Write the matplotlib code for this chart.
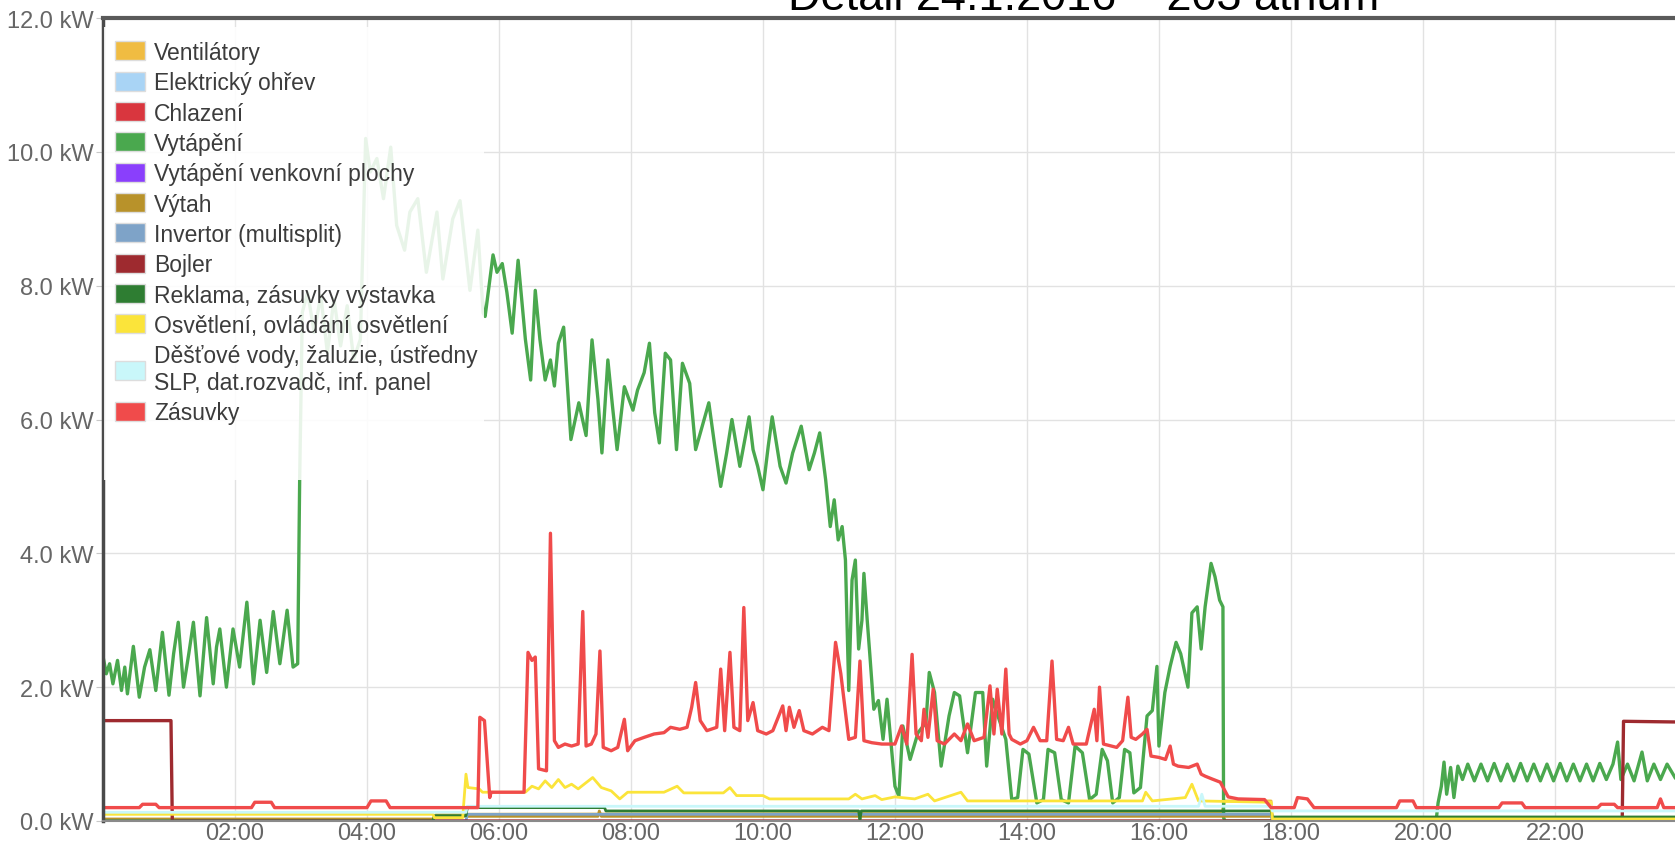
import matplotlib
matplotlib.use("Agg")
import matplotlib.pyplot as plt
from matplotlib.patches import Patch, Rectangle

plt.rcParams["font.family"] = ["Liberation Sans", "DejaVu Sans"]

# ----------------------------
# Data (hours, kW)
# ----------------------------

series_names = [
    "Ventilátory",
    "Elektrický ohřev",
    "Chlazení",
    "Vytápění",
    "Vytápění venkovní plochy",
    "Výtah",
    "Invertor (multisplit)",
    "Bojler",
    "Reklama, zásuvky výstavka",
    "Osvětlení, ovládání osvětlení",
    "Děšťové vody, žaluzie, ústředny\nSLP, dat.rozvadč, inf. panel",
    "Zásuvky",
]

series_colors = [
    "#f0bc42", "#a9d4f5", "#d9363e", "#4aa84e", "#8a3ffc", "#b8922a",
    "#7ea3c8", "#9e2a2f", "#2e7d32", "#fbe43a", "#c9f7fa", "#f04b4b",
]

fans = [(0.0, 0.02), (5.0, 0.02), (5.05, 0.1), (16.95, 0.12), (17.0, 0.3),
        (17.7, 0.3), (17.72, 0.02), (23.82, 0.02)]

el_heating = [(0.0, 0.0), (23.82, 0.0)]

cooling = [(0.0, 0.0), (23.82, 0.0)]

heating = [
    (0.00, 2.46), (0.05, 2.20), (0.10, 2.35), (0.15, 2.05), (0.22, 2.40),
    (0.28, 1.95), (0.33, 2.30), (0.37, 1.90), (0.46, 2.61), (0.55, 1.85),
    (0.63, 2.30), (0.71, 2.56), (0.80, 1.95), (0.90, 2.82), (1.00, 1.88),
    (1.07, 2.50), (1.14, 2.97), (1.22, 2.00), (1.30, 2.50), (1.37, 2.97),
    (1.47, 1.87), (1.57, 3.04), (1.67, 2.05), (1.72, 2.60), (1.77, 2.87),
    (1.87, 2.00), (1.97, 2.87), (2.07, 2.30), (2.18, 3.27), (2.28, 2.05),
    (2.38, 3.00), (2.48, 2.22), (2.58, 3.13), (2.68, 2.35), (2.79, 3.15),
    (2.88, 2.30), (2.95, 2.35), (2.98, 5.10), (3.02, 7.60), (3.10, 7.90),
    (3.20, 7.30), (3.30, 7.85), (3.40, 7.00), (3.50, 7.80), (3.60, 7.10),
    (3.70, 7.70), (3.80, 6.90), (3.90, 7.20), (3.98, 10.20), (4.05, 9.70),
    (4.15, 9.90), (4.25, 9.30), (4.36, 10.07), (4.45, 8.90), (4.57, 8.53),
    (4.65, 9.10), (4.77, 9.30), (4.90, 8.20), (5.06, 9.10), (5.15, 8.10),
    (5.30, 9.00), (5.41, 9.27), (5.56, 7.93), (5.68, 8.83), (5.76, 7.59),
    (5.79, 7.54), (5.91, 8.46), (5.97, 8.20), (6.05, 8.33), (6.12, 7.90),
    (6.20, 7.29), (6.29, 8.38), (6.40, 7.20), (6.48, 6.59), (6.55, 7.93),
    (6.62, 7.20), (6.70, 6.59), (6.78, 6.89), (6.84, 6.50), (6.90, 7.14),
    (6.98, 7.38), (7.09, 5.70), (7.21, 6.25), (7.32, 5.76), (7.41, 7.19),
    (7.50, 6.30), (7.56, 5.50), (7.65, 6.89), (7.72, 6.20), (7.79, 5.55),
    (7.90, 6.49), (8.03, 6.14), (8.10, 6.44), (8.20, 6.70), (8.28, 7.14),
    (8.36, 6.10), (8.43, 5.65), (8.52, 6.99), (8.60, 6.89), (8.69, 5.55),
    (8.78, 6.84), (8.89, 6.54), (8.98, 5.55), (9.08, 5.90), (9.18, 6.25),
    (9.27, 5.60), (9.36, 5.00), (9.45, 5.50), (9.53, 6.00), (9.65, 5.30),
    (9.79, 6.04), (9.85, 5.55), (9.92, 5.30), (10.00, 4.95), (10.08, 5.60),
    (10.14, 6.04), (10.26, 5.30), (10.35, 5.05), (10.45, 5.50), (10.58, 5.90),
    (10.70, 5.25), (10.78, 5.50), (10.86, 5.80), (10.95, 5.10), (11.02, 4.40),
    (11.08, 4.80), (11.14, 4.20), (11.20, 4.40), (11.25, 3.90), (11.30, 1.95),
    (11.35, 3.60), (11.40, 3.90), (11.45, 2.57), (11.50, 3.00), (11.53, 3.70),
    (11.58, 3.00), (11.62, 2.48), (11.68, 1.67), (11.75, 1.80), (11.82, 1.22),
    (11.88, 1.82), (12.00, 0.52), (12.06, 0.37), (12.12, 1.42), (12.23, 0.92),
    (12.35, 1.32), (12.47, 1.47), (12.52, 2.22), (12.60, 1.92), (12.70, 0.82),
    (12.82, 1.57), (12.90, 1.92), (12.98, 1.87), (13.10, 1.02), (13.22, 1.92),
    (13.33, 1.92), (13.39, 0.82), (13.48, 1.82), (13.56, 1.57), (13.68, 1.22),
    (13.77, 0.32), (13.86, 0.35), (13.94, 1.07), (14.03, 1.00), (14.15, 0.27),
    (14.25, 0.32), (14.32, 1.07), (14.42, 1.02), (14.52, 0.32), (14.63, 0.27),
    (14.73, 1.12), (14.84, 1.02), (14.95, 0.32), (15.05, 0.40), (15.14, 1.07),
    (15.22, 0.90), (15.30, 0.27), (15.40, 0.35), (15.48, 1.07), (15.56, 1.02),
    (15.62, 0.42), (15.72, 0.50), (15.82, 1.57), (15.90, 1.65), (15.97, 2.31),
    (16.00, 1.12), (16.09, 1.92), (16.17, 2.31), (16.26, 2.67), (16.33, 2.50),
    (16.44, 2.00), (16.50, 3.11), (16.58, 3.20), (16.64, 2.57), (16.70, 3.20),
    (16.79, 3.85), (16.85, 3.65), (16.92, 3.30), (16.97, 3.20), (16.98, 0.05),
    (17.00, 0.00), (20.20, 0.00), (20.23, 0.27), (20.28, 0.52), (20.32, 0.88),
    (20.36, 0.40), (20.42, 0.80), (20.47, 0.35), (20.53, 0.82), (20.60, 0.62),
    (20.68, 0.85), (20.78, 0.60), (20.88, 0.85), (20.98, 0.60), (21.08, 0.86),
    (21.18, 0.60), (21.28, 0.85), (21.38, 0.60), (21.48, 0.86), (21.58, 0.60),
    (21.68, 0.85), (21.78, 0.60), (21.88, 0.85), (21.98, 0.60), (22.08, 0.86),
    (22.18, 0.60), (22.28, 0.85), (22.38, 0.60), (22.48, 0.85), (22.58, 0.60),
    (22.68, 0.86), (22.78, 0.62), (22.88, 0.85), (22.95, 1.18), (23.00, 0.62),
    (23.10, 0.85), (23.20, 0.60), (23.32, 1.03), (23.40, 0.60), (23.50, 0.85),
    (23.60, 0.62), (23.70, 0.85), (23.82, 0.65),
]

outdoor_heating = [(0.0, 0.0), (23.82, 0.0)]

lift = [(0.0, 0.03), (5.0, 0.03), (5.05, 0.07), (7.5, 0.07), (7.52, 0.15),
        (7.55, 0.07), (17.7, 0.07), (17.72, 0.03), (23.82, 0.03)]

inverter = [(0.0, 0.0), (5.5, 0.0), (5.52, 0.1), (17.7, 0.1), (17.72, 0.0),
            (23.82, 0.0)]

boiler = [(0.0, 1.50), (1.03, 1.50), (1.05, 0.0), (23.02, 0.0),
          (23.04, 1.49), (23.82, 1.48)]

advert = [(0.0, 0.0), (5.0, 0.0), (5.02, 0.08), (5.5, 0.08), (5.52, 0.2),
          (7.6, 0.2), (7.62, 0.15), (11.45, 0.15), (11.47, 0.02), (11.49, 0.15),
          (17.7, 0.15), (17.72, 0.06), (23.82, 0.06)]

lighting = [
    (0.00, 0.10), (5.00, 0.10), (5.02, 0.05), (5.45, 0.05), (5.50, 0.70),
    (5.53, 0.50), (5.70, 0.48), (5.75, 0.43), (6.40, 0.43), (6.50, 0.52),
    (6.60, 0.48), (6.70, 0.60), (6.80, 0.50), (6.90, 0.62), (7.00, 0.50),
    (7.10, 0.55), (7.20, 0.48), (7.42, 0.65), (7.55, 0.50), (7.70, 0.45),
    (7.83, 0.33), (7.95, 0.43), (8.50, 0.43), (8.70, 0.52), (8.80, 0.42),
    (9.40, 0.42), (9.50, 0.50), (9.60, 0.38), (10.00, 0.38), (10.10, 0.33),
    (11.30, 0.33), (11.40, 0.40), (11.50, 0.33), (11.70, 0.38), (11.80, 0.32),
    (12.00, 0.36), (12.30, 0.33), (12.50, 0.40), (12.60, 0.30), (13.00, 0.43),
    (13.10, 0.30), (15.75, 0.30), (15.80, 0.43), (15.90, 0.30), (16.40, 0.35),
    (16.50, 0.55), (16.60, 0.30), (17.70, 0.28), (17.72, 0.03), (23.82, 0.03),
]

rainwater = [(0.0, 0.13), (5.5, 0.13), (5.52, 0.22), (16.6, 0.22),
             (16.65, 0.4), (16.7, 0.22), (17.7, 0.22), (17.72, 0.15),
             (23.82, 0.15)]

sockets = [
    (0.00, 0.20), (0.55, 0.20), (0.60, 0.25), (0.80, 0.25), (0.85, 0.20),
    (2.25, 0.20), (2.30, 0.28), (2.55, 0.28), (2.60, 0.20), (4.00, 0.20),
    (4.06, 0.30), (4.29, 0.30), (4.35, 0.20), (5.68, 0.20), (5.71, 1.55),
    (5.78, 1.50), (5.86, 0.35), (5.88, 0.43), (6.38, 0.43), (6.44, 2.52),
    (6.50, 2.40), (6.55, 2.45), (6.60, 0.78), (6.72, 0.75), (6.78, 4.30),
    (6.84, 1.20), (6.90, 1.10), (7.00, 1.15), (7.10, 1.12), (7.20, 1.15),
    (7.27, 3.13), (7.32, 1.12), (7.40, 1.15), (7.47, 1.30), (7.53, 2.54),
    (7.58, 1.10), (7.70, 1.05), (7.80, 1.10), (7.90, 1.52), (7.95, 1.05),
    (8.06, 1.20), (8.20, 1.25), (8.35, 1.30), (8.50, 1.32), (8.60, 1.40),
    (8.74, 1.37), (8.85, 1.40), (8.92, 1.70), (8.98, 2.07), (9.05, 1.50),
    (9.15, 1.35), (9.30, 1.40), (9.36, 2.27), (9.42, 1.35), (9.50, 2.52),
    (9.56, 1.40), (9.65, 1.35), (9.71, 3.19), (9.77, 1.50), (9.85, 1.77),
    (9.92, 1.35), (10.05, 1.30), (10.15, 1.35), (10.30, 1.72), (10.35, 1.35),
    (10.40, 1.70), (10.47, 1.40), (10.55, 1.65), (10.62, 1.35), (10.75, 1.30),
    (10.90, 1.40), (11.00, 1.35), (11.10, 2.67), (11.18, 2.20), (11.30, 1.22),
    (11.40, 1.25), (11.47, 2.39), (11.53, 1.20), (11.65, 1.17), (11.80, 1.15),
    (12.00, 1.15), (12.10, 1.42), (12.18, 1.15), (12.26, 2.49), (12.32, 1.30),
    (12.40, 1.20), (12.44, 1.67), (12.50, 1.25), (12.58, 1.97), (12.64, 1.20),
    (12.75, 1.15), (12.90, 1.30), (13.00, 1.20), (13.10, 1.45), (13.20, 1.20),
    (13.35, 1.25), (13.44, 2.02), (13.50, 1.30), (13.55, 1.97), (13.62, 1.30),
    (13.68, 2.27), (13.73, 1.30), (13.77, 1.22), (13.90, 1.15), (14.00, 1.20),
    (14.10, 1.40), (14.20, 1.20), (14.30, 1.20), (14.38, 2.39), (14.45, 1.22),
    (14.55, 1.20), (14.63, 1.40), (14.70, 1.15), (14.90, 1.15), (15.02, 1.67),
    (15.06, 1.20), (15.10, 2.00), (15.16, 1.15), (15.36, 1.10), (15.45, 1.20),
    (15.53, 1.85), (15.58, 1.25), (15.65, 1.22), (15.75, 1.30), (15.82, 1.37),
    (15.88, 0.97), (16.00, 0.95), (16.10, 0.92), (16.17, 1.12), (16.22, 0.85),
    (16.29, 0.82), (16.45, 0.80), (16.58, 0.85), (16.64, 0.70), (16.70, 0.67),
    (16.80, 0.63), (16.93, 0.58), (17.05, 0.36), (17.20, 0.33), (17.60, 0.32),
    (17.70, 0.20), (18.05, 0.20), (18.10, 0.35), (18.25, 0.33), (18.35, 0.20),
    (19.60, 0.20), (19.65, 0.30), (19.85, 0.30), (19.90, 0.20), (21.15, 0.20),
    (21.20, 0.27), (21.50, 0.27), (21.55, 0.20), (22.65, 0.20), (22.70, 0.25),
    (22.90, 0.25), (22.95, 0.20), (23.55, 0.20), (23.60, 0.33), (23.65, 0.20),
    (23.82, 0.20),
]

all_series = [fans, el_heating, cooling, heating, outdoor_heating, lift,
              inverter, boiler, advert, lighting, rainwater, sockets]

hour_ticks = [2, 4, 6, 8, 10, 12, 14, 16, 18, 20, 22]
kw_ticks = [0, 2, 4, 6, 8, 10, 12]

# ----------------------------
# Figure
# ----------------------------

W, H = 1675, 853
fig = plt.figure(figsize=(W / 100, H / 100), dpi=100)
ax = fig.add_axes([103 / W, 1 - 822 / H, 1 - 103 / W, (822 - 19) / H])

for pts, color in zip(all_series, series_colors):
    t = [p[0] for p in pts]
    v = [p[1] for p in pts]
    lw = 2.4 if pts in (heating, sockets, boiler) else 2.0
    ax.plot(t, v, color=color, lw=lw, solid_joinstyle="round")

ax.set_xlim(0, 23.82)
ax.set_ylim(0, 12)
ax.set_xticks(hour_ticks)
ax.set_xticklabels([f"{h:02d}:00" for h in hour_ticks])
ax.set_yticks(kw_ticks)
ax.set_yticklabels([f"{k:.1f} kW" for k in kw_ticks])

ax.grid(color="#e2e2e2", lw=1.0)
ax.set_axisbelow(True)

ax.spines["right"].set_visible(False)
ax.spines["left"].set_color("#4a4a4a")
ax.spines["left"].set_linewidth(2.5)
ax.spines["top"].set_color("#5a5a5a")
ax.spines["top"].set_linewidth(3)
ax.spines["bottom"].set_color("#8a8a8a")
ax.spines["bottom"].set_linewidth(1.5)

ax.tick_params(axis="y", length=5, color="#c8c8c8", pad=2,
               labelsize=17, labelcolor="#666666")
ax.tick_params(axis="x", length=0, pad=1,
               labelsize=17, labelcolor="#666666")

# legend background (semi-transparent, covers the lines behind it)
ax.add_patch(Rectangle((104 / W, 1 - 481 / H), (484 - 104) / W, (481 - 28) / H,
                       transform=fig.transFigure, facecolor="white",
                       edgecolor="none", alpha=0.88, zorder=4))

handles = [Patch(facecolor=c, edgecolor="#dddddd", lw=1) for c in series_colors]
leg = ax.legend(
    handles, series_names,
    loc="upper left",
    bbox_to_anchor=(108 / W, 1 - 35 / H),
    bbox_transform=fig.transFigure,
    frameon=False,
    fontsize=16.5,
    handlelength=1.3, handleheight=0.9, handletextpad=0.4,
    labelspacing=0.32, borderpad=0.3, borderaxespad=0,
)
leg.set_zorder(5)
for txt in leg.get_texts():
    txt.set_color("#3c3c3c")

fig.text(788 / W, 1 - 10 / H, "Detail 24.1.2016 \u2013 203 atrium",
         fontsize=32.5, color="black", ha="left", va="baseline")

fig.savefig("out.png", dpi=100)
